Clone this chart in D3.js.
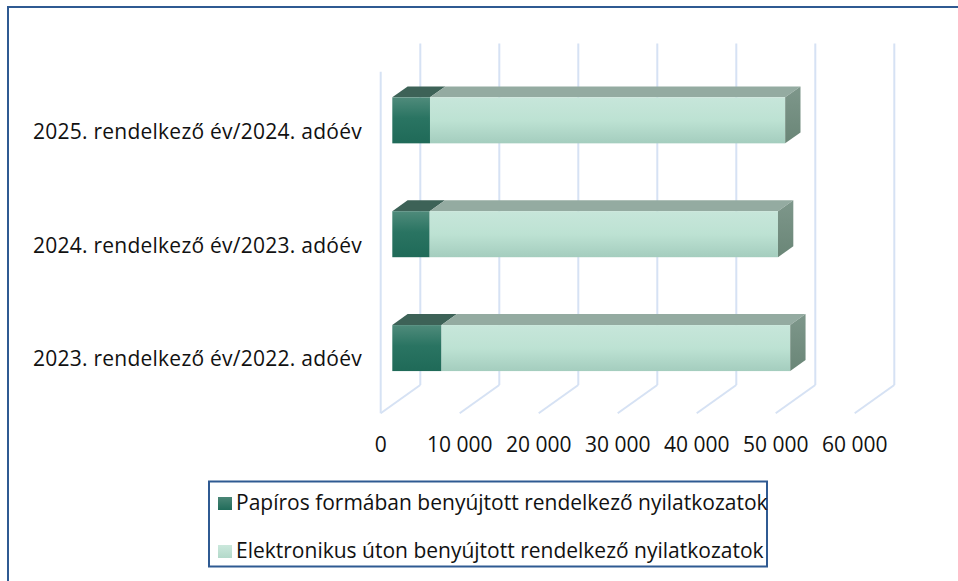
<!DOCTYPE html>
<html>
<head>
<meta charset="utf-8">
<title>Rendelkező nyilatkozatok</title>
<script src="https://d3js.org/d3.v7.min.js"></script>
<style>
  body { margin: 0; background: #fff; }
  text { font-family: "Open Sans", Lato, sans-serif; fill: #111; }
</style>
</head>
<body>
<div id="chart"></div>
<script>
// data, top bar first
var categories = ["2025. rendelkező év/2024. adóév", "2024. rendelkező év/2023. adóév", "2023. rendelkező év/2022. adóév"];
var papir = [4770, 4730, 6230];
var elektronikus = [44960, 44090, 44140];
var seriesNames = ["Papíros formában benyújtott rendelkező nyilatkozatok", "Elektronikus úton benyújtott rendelkező nyilatkozatok"];
var ticks = [0, 10000, 20000, 30000, 40000, 50000, 60000];

var width = 958, height = 581;
var DX = 39.6, DY = 28.3;      // depth of the 3d box
var f0 = 0.293, f1 = 0.68;     // bar position inside the depth
var fontSize = 21;

var svg = d3.select("#chart").append("svg")
    .attr("width", width)
    .attr("height", height);

var defs = svg.append("defs");
function grad(id, stops) {
  var g = defs.append("linearGradient").attr("id", id)
      .attr("x1", 0).attr("y1", 0).attr("x2", 0).attr("y2", 1);
  stops.forEach(function(s) {
    g.append("stop").attr("offset", s[0]).attr("stop-color", s[1]);
  });
}
grad("darkFront", [[0, "#4f8b7b"], [0.45, "#2a7462"], [1, "#1f6a58"]]);
grad("lightFront", [[0, "#c7e6da"], [0.5, "#bde2d3"], [1, "#a4cdbe"]]);
grad("sideFace", [[0, "#7e978b"], [1, "#6a8677"]]);
grad("legDark", [[0, "#4a8676"], [1, "#216c5a"]]);
grad("legLight", [[0, "#cbe8dc"], [1, "#b3d9ca"]]);

// outer frame
svg.append("rect")
    .attr("x", 8).attr("y", 7)
    .attr("width", 1000).attr("height", 700)
    .attr("fill", "none")
    .attr("stroke", "#2f5a92")
    .attr("stroke-width", 2);

var x = d3.scaleLinear().domain([0, 60000]).range([380.7, 854.7]);
var y = d3.scaleBand().domain(categories).range([71.7, 413.3])
    .paddingInner(0.596).paddingOuter(0.298);

var yTop = y.range()[0], yBot = y.range()[1];

// gridlines
var grid = svg.append("g").attr("stroke", "#d6e2f4").attr("stroke-width", 2).attr("fill", "none");
grid.selectAll(".back").data(ticks).enter().append("line")
    .attr("x1", d => x(d) + DX).attr("x2", d => x(d) + DX)
    .attr("y1", yTop - DY).attr("y2", yBot - DY);
grid.selectAll(".floor").data(ticks).enter().append("line")
    .attr("x1", d => x(d)).attr("y1", yBot)
    .attr("x2", d => x(d) + DX).attr("y2", yBot - DY);
grid.append("line")
    .attr("x1", x(0)).attr("x2", x(0))
    .attr("y1", yTop).attr("y2", yBot);

// stacked bars
var rows = categories.map(function(c, i) {
  return [
    { cat: c, s: 0, e: papir[i], k: 0 },
    { cat: c, s: papir[i], e: papir[i] + elektronikus[i], k: 1 }
  ];
});
var topColor = ["#3d6257", "#94aba1"];
var frontFill = ["url(#darkFront)", "url(#lightFront)"];

var bars = svg.append("g");
rows.forEach(function(row) {
  var g = bars.append("g");
  row.forEach(function(d) {
    var bw = y.bandwidth();
    var yf = y(d.cat) - f0 * DY;
    var xs = x(d.s) + f0 * DX, xe = x(d.e) + f0 * DX;
    var ddx = (f1 - f0) * DX, ddy = (f1 - f0) * DY;
    g.append("polygon")
        .attr("points", [[xs, yf], [xe, yf], [xe + ddx, yf - ddy], [xs + ddx, yf - ddy]].join(" "))
        .attr("fill", topColor[d.k]);
    g.append("rect")
        .attr("x", xs).attr("y", yf)
        .attr("width", xe - xs).attr("height", bw)
        .attr("fill", frontFill[d.k]);
    if (d.k === 1) {
      g.append("polygon")
          .attr("points", [[xe, yf], [xe + ddx, yf - ddy], [xe + ddx, yf - ddy + bw], [xe, yf + bw]].join(" "))
          .attr("fill", "url(#sideFace)");
    }
  });
});

// value axis labels
svg.append("g").selectAll("text").data(ticks).enter().append("text")
    .attr("x", d => x(d))
    .attr("y", 452)
    .attr("text-anchor", "middle")
    .attr("font-size", fontSize)
    .text(d => d === 0 ? "0" : d3.format(",")(d).replace(/,/g, " "));

// category labels
svg.append("g").selectAll("text").data(categories).enter().append("text")
    .attr("x", 362)
    .attr("y", d => y(d) + y.bandwidth() / 2 + 10)
    .attr("text-anchor", "end")
    .attr("font-size", fontSize)
    .attr("letter-spacing", 0.25)
    .text(d => d);

// legend
var legend = svg.append("g");
legend.append("rect")
    .attr("x", 209).attr("y", 481.5)
    .attr("width", 558).attr("height", 85)
    .attr("fill", "#fff")
    .attr("stroke", "#2f5a92")
    .attr("stroke-width", 2);
var legColors = ["url(#legDark)", "url(#legLight)"];
seriesNames.forEach(function(n, i) {
  var ly = 510 + i * 48;
  legend.append("rect")
      .attr("x", 218).attr("y", ly - 13)
      .attr("width", 14).attr("height", 13)
      .attr("fill", legColors[i]);
  legend.append("text")
      .attr("x", 236).attr("y", ly)
      .attr("font-size", fontSize)
      .text(n);
});
</script>
</body>
</html>
